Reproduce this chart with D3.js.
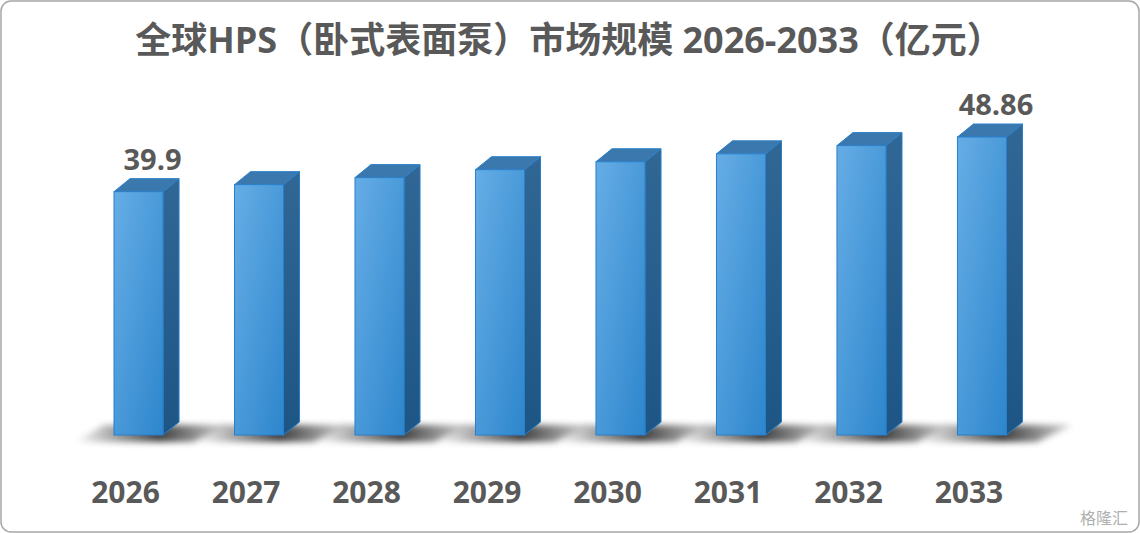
<!DOCTYPE html>
<html>
<head>
<meta charset="utf-8">
<script src="https://d3js.org/d3.v7.min.js"></script>
<style>
  body { margin: 0; background: #fff; }
  svg text { font-family: 'Open Sans', 'Noto Sans CJK SC', sans-serif; font-weight: bold; fill: #595959; }
</style>
</head>
<body>
<script>
const years = ['2026', '2027', '2028', '2029', '2030', '2031', '2032', '2033'];
const values = [39.9, 41.05, 42.2, 43.5, 44.8, 46.1, 47.45, 48.86];
const shownLabels = {0: '39.9', 7: '48.86'};

const W = 1140, H = 533;
const dx = 16, dy = 13;
const base = 435;

const svg = d3.select('body').append('svg').attr('width', W).attr('height', H);
const defs = svg.append('defs');

const front = defs.append('linearGradient').attr('id', 'front')
  .attr('x1', 0).attr('y1', 0).attr('x2', 1).attr('y2', 1);
front.append('stop').attr('offset', '0%').attr('stop-color', '#66ade6');
front.append('stop').attr('offset', '100%').attr('stop-color', '#2d86cc');
const side = defs.append('linearGradient').attr('id', 'side')
  .attr('x1', 0).attr('y1', 0).attr('x2', 0).attr('y2', 1);
side.append('stop').attr('offset', '0%').attr('stop-color', '#306795');
side.append('stop').attr('offset', '100%').attr('stop-color', '#1d5585');
defs.append('filter').attr('id', 'blur').attr('x', '-50%').attr('y', '-100%').attr('width', '200%').attr('height', '300%')
  .append('feGaussianBlur').attr('stdDeviation', 3);
const sh = defs.append('linearGradient').attr('id', 'shadow').attr('x1', 0).attr('x2', 1);
sh.append('stop').attr('offset', '0%').attr('stop-color', '#000').attr('stop-opacity', 0);
sh.append('stop').attr('offset', '55%').attr('stop-color', '#000').attr('stop-opacity', 0.75);
sh.append('stop').attr('offset', '100%').attr('stop-color', '#000').attr('stop-opacity', 0.15);

svg.append('rect').attr('x', 1).attr('y', 1).attr('width', W - 2).attr('height', H - 2)
  .attr('rx', 10).attr('fill', '#fff').attr('stroke', '#a6a6a6').attr('stroke-width', 1.5);

svg.append('text').attr('x', 569).attr('y', 53).attr('text-anchor', 'middle')
  .style('font-size', '36px').text('全球HPS（卧式表面泵）市场规模 2026-2033（亿元）');

const x = d3.scaleBand().domain(years).range([114, 1006.5]).paddingInner(0.593).paddingOuter(0);
const y = d3.scaleLinear().domain([0, 48.86]).range([base, 137]);

const g = svg.selectAll('g.bar').data(values).enter().append('g');

// floor shadow
g.append('polygon')
  .attr('points', (d, i) => {
    const l = x(years[i]), r = l + x.bandwidth();
    return [[l - 40, base + 7], [l - 10, base - 10], [r + dx + 50, base - 10], [r + 30, base + 7]].join(' ');
  })
  .attr('fill', 'url(#shadow)').attr('filter', 'url(#blur)');

g.append('polygon')
  .attr('points', (d, i) => {
    const r = x(years[i]) + x.bandwidth();
    return [[r, y(d)], [r + dx, y(d) - dy], [r + dx, base - dy], [r, base]].join(' ');
  })
  .attr('fill', 'url(#side)').attr('stroke', '#2a7fc9').attr('stroke-width', 1);
g.append('polygon')
  .attr('points', (d, i) => {
    const l = x(years[i]), r = l + x.bandwidth();
    return [[l, y(d)], [l + dx, y(d) - dy], [r + dx, y(d) - dy], [r, y(d)]].join(' ');
  })
  .attr('fill', '#3a78ad').attr('stroke', '#2a7fc9').attr('stroke-width', 1);
g.append('rect')
  .attr('x', (d, i) => x(years[i])).attr('y', d => y(d))
  .attr('width', x.bandwidth()).attr('height', d => base - y(d))
  .attr('fill', 'url(#front)').attr('stroke', '#2a7fc9').attr('stroke-width', 1);

g.filter((d, i) => shownLabels[i]).append('text')
  .attr('x', (d, i) => x(years[values.indexOf(d)]) + x.bandwidth() / 2 + 14)
  .attr('y', d => y(d) - 22).attr('text-anchor', 'middle')
  .style('font-size', '29px').text(d => shownLabels[values.indexOf(d)]);

svg.selectAll('text.year').data(years).enter().append('text')
  .attr('x', d => x(d) + x.bandwidth() / 2 - 13).attr('y', 503).attr('text-anchor', 'middle')
  .style('font-size', '30px').text(d => d);

svg.append('text').attr('x', 1128).attr('y', 524).attr('text-anchor', 'end')
  .style('font-size', '16px').style('font-weight', 'normal').style('fill', '#b0b0b0').text('格隆汇');
</script>
</body>
</html>
